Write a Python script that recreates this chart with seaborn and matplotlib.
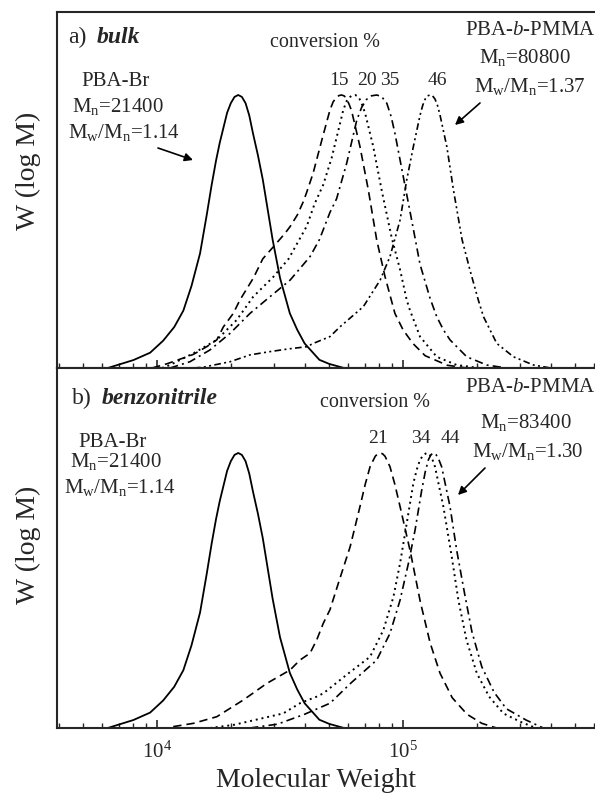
import numpy as np
import pandas as pd
import matplotlib
matplotlib.use("Agg")
import matplotlib.pyplot as plt
import seaborn as sns

# --- data: log10(M) and normalised W(log M) ---
# PBA-Br macroinitiator (same trace in both panels)
pba_logm = [3.80, 3.904, 3.972, 4.025, 4.07, 4.107, 4.14, 4.175, 4.202, 4.222, 4.24,
            4.255, 4.27, 4.285, 4.30, 4.315, 4.33, 4.345, 4.36, 4.375, 4.39, 4.41,
            4.43, 4.45, 4.47, 4.50, 4.54, 4.57, 4.60, 4.66, 4.70, 4.76]
pba_w = [0.0, 0.029, 0.056, 0.10, 0.15, 0.21, 0.30, 0.42, 0.56, 0.67, 0.76,
         0.825, 0.88, 0.935, 0.97, 0.993, 1.0, 0.993, 0.97, 0.925, 0.86, 0.78,
         0.69, 0.58, 0.47, 0.33, 0.20, 0.14, 0.09, 0.03, 0.015, 0.0]

# a) bulk
a15_logm = [3.98, 4.039, 4.121, 4.148, 4.202, 4.243, 4.270, 4.310, 4.337, 4.392, 4.430,
            4.473, 4.520, 4.541, 4.57, 4.595, 4.609, 4.635, 4.670, 4.703, 4.716, 4.73,
            4.74, 4.751, 4.762, 4.77, 4.78, 4.791, 4.825, 4.859, 4.893, 4.927, 4.967,
            5.00, 5.04, 5.09, 5.18, 5.26]
a15_w = [0.0, 0.015, 0.041, 0.05, 0.078, 0.103, 0.151, 0.20, 0.249, 0.33, 0.40,
         0.444, 0.493, 0.518, 0.56, 0.61, 0.645, 0.715, 0.835, 0.945, 0.975, 0.992,
         0.998, 1.0, 0.996, 0.985, 0.968, 0.942, 0.811, 0.652, 0.469, 0.334, 0.20,
         0.14, 0.09, 0.045, 0.01, 0.0]

a20_logm = [4.02, 4.053, 4.148, 4.243, 4.324, 4.391, 4.473, 4.535, 4.609, 4.640, 4.676,
            4.71, 4.744, 4.757, 4.771, 4.785, 4.795, 4.805, 4.815, 4.823, 4.835, 4.846,
            4.879, 4.913, 4.953, 4.988, 5.015, 5.028, 5.069, 5.137, 5.218, 5.31]
a20_w = [0.0, 0.011, 0.054, 0.103, 0.176, 0.261, 0.334, 0.40, 0.52, 0.60, 0.672,
         0.77, 0.896, 0.945, 0.978, 0.993, 0.999, 1.0, 0.996, 0.986, 0.962, 0.933,
         0.811, 0.652, 0.481, 0.36, 0.249, 0.212, 0.115, 0.041, 0.011, 0.0]

a35_logm = [4.053, 4.134, 4.215, 4.297, 4.378, 4.459, 4.541, 4.622, 4.66, 4.703, 4.730,
            4.771, 4.812, 4.832, 4.852, 4.872, 4.893, 4.913, 4.934, 4.952, 4.967, 5.001,
            5.035, 5.069, 5.110, 5.137, 5.164, 5.191, 5.259, 5.340, 5.42]
a35_w = [0.0, 0.023, 0.066, 0.127, 0.20, 0.261, 0.322, 0.408, 0.47, 0.57, 0.62,
         0.75, 0.908, 0.955, 0.984, 0.997, 1.0, 0.994, 0.97, 0.92, 0.86, 0.701,
         0.542, 0.38, 0.255, 0.188, 0.14, 0.103, 0.041, 0.011, 0.0]

a46_logm = [4.15, 4.188, 4.297, 4.378, 4.459, 4.535, 4.609, 4.635, 4.703, 4.744, 4.839,
            4.907, 4.947, 4.988, 5.015, 5.042, 5.069, 5.080, 5.090, 5.100, 5.110, 5.120,
            5.130, 5.140, 5.150, 5.178, 5.205, 5.24, 5.272, 5.306, 5.327, 5.381, 5.449,
            5.530, 5.60]
a46_w = [0.0, 0.003, 0.023, 0.048, 0.060, 0.07, 0.078, 0.09, 0.115, 0.151, 0.225,
         0.322, 0.408, 0.542, 0.689, 0.811, 0.925, 0.962, 0.985, 0.997, 1.0, 0.997,
         0.985, 0.962, 0.928, 0.811, 0.652, 0.47, 0.359, 0.249, 0.188, 0.09, 0.041,
         0.011, 0.0]

# b) benzonitrile
b21_logm = [4.066, 4.148, 4.243, 4.351, 4.446, 4.541, 4.581, 4.622, 4.649, 4.676, 4.703,
            4.737, 4.785, 4.825, 4.846, 4.866, 4.887, 4.897, 4.907, 4.917, 4.927, 4.947,
            4.967, 4.988, 5.03, 5.07, 5.11, 5.15, 5.20, 5.26, 5.32, 5.38]
b21_w = [0.005, 0.017, 0.041, 0.102, 0.162, 0.211, 0.247, 0.272, 0.32, 0.381, 0.43,
         0.526, 0.659, 0.805, 0.885, 0.95, 0.988, 0.997, 1.0, 0.997, 0.988, 0.95,
         0.885, 0.805, 0.64, 0.46, 0.31, 0.20, 0.11, 0.05, 0.017, 0.0]

b34_logm = [4.215, 4.310, 4.513, 4.581, 4.649, 4.676, 4.78, 4.866, 4.920, 4.961, 4.988,
            5.015, 5.042, 5.056, 5.069, 5.083, 5.096, 5.108, 5.12, 5.130, 5.164, 5.198,
            5.225, 5.258, 5.30, 5.35, 5.408, 5.476, 5.54]
b34_w = [0.0, 0.011, 0.053, 0.09, 0.114, 0.126, 0.20, 0.259, 0.356, 0.477, 0.599,
         0.744, 0.89, 0.94, 0.975, 0.993, 1.0, 0.995, 0.975, 0.95, 0.805, 0.623,
         0.465, 0.32, 0.199, 0.114, 0.053, 0.023, 0.0]

b44_logm = [4.378, 4.49, 4.60, 4.703, 4.79, 4.893, 4.947, 4.988, 5.022, 5.049, 5.076,
            5.09, 5.103, 5.113, 5.123, 5.135, 5.146, 5.157, 5.191, 5.218, 5.25, 5.28,
            5.32, 5.37, 5.42, 5.50, 5.57]
b44_w = [0.0, 0.014, 0.05, 0.09, 0.165, 0.247, 0.344, 0.465, 0.599, 0.72, 0.865,
         0.93, 0.975, 0.993, 1.0, 0.993, 0.975, 0.95, 0.805, 0.647, 0.49, 0.35,
         0.223, 0.13, 0.07, 0.029, 0.0]

W, H = 595, 799


def fx(x):
    return x / W


def fy(y):
    return 1 - y / H


def curve(ax, logm, w, ls, lw=1.2):
    df = pd.DataFrame({'M': 10 ** np.array(logm), 'W': w})
    sns.lineplot(data=df, x='M', y='W', ax=ax, color='black', linestyle=ls,
                 linewidth=lw, estimator=None, sort=False)


sns.set_style("ticks")
plt.rcParams['font.family'] = ['Liberation Serif', 'DejaVu Serif']
plt.rcParams['mathtext.fontset'] = 'custom'
plt.rcParams['mathtext.rm'] = 'Liberation Serif'
plt.rcParams['mathtext.it'] = 'Liberation Serif:italic'
plt.rcParams['mathtext.bf'] = 'Liberation Serif:bold'
plt.rcParams['lines.solid_joinstyle'] = 'round'
plt.rcParams['lines.dash_joinstyle'] = 'round'

DASH = (0, (5, 3))
DOT = (0, (1, 2))
DASHDOT = (0, (5, 2.5, 1.2, 2.5))
DASHDOTDOT = (0, (4, 2, 1.2, 2, 1.2, 2))

fig = plt.figure(figsize=(5.95, 7.99), dpi=100)
ax_a = fig.add_axes([fx(57), fy(368), 1 - fx(57), (368 - 12) / H])
ax_b = fig.add_axes([fx(57), fy(728), 1 - fx(57), (728 - 368) / H])

curve(ax_a, pba_logm, pba_w, '-', 1.3)
curve(ax_a, a15_logm, a15_w, DASH)
curve(ax_a, a20_logm, a20_w, DOT, 1.4)
curve(ax_a, a35_logm, a35_w, DASHDOT)
curve(ax_a, a46_logm, a46_w, DASHDOTDOT)

curve(ax_b, pba_logm, pba_w, '-', 1.3)
curve(ax_b, b21_logm, b21_w, DASH)
curve(ax_b, b34_logm, b34_w, DOT, 1.4)
curve(ax_b, b44_logm, b44_w, DASHDOT)

for ax, top in [(ax_a, 1.304), (ax_b, 1.309)]:
    ax.set_xscale('log')
    ax.set_xlim(3922, 603000)
    ax.set_ylim(0, top)
    ax.set_yticks([])
    ax.spines['right'].set_visible(False)
    for s in ['left', 'bottom', 'top']:
        ax.spines[s].set_linewidth(1.5)
    ax.tick_params(axis='x', which='major', direction='in', length=6, width=1.2,
                   labelsize=15, pad=10, top=False)
    ax.tick_params(axis='x', which='minor', direction='in', length=3.5, width=1.0,
                   top=False)
    ax.set_ylabel('W (log M)', fontsize=20)
    ax.set_xlabel('')

ax_a.tick_params(axis='x', which='both', labelbottom=False)
ax_a.yaxis.set_label_coords(-0.03, 0.553)
ax_b.yaxis.set_label_coords(-0.03, 0.508)
ax_b.set_xlabel('Molecular Weight', fontsize=20)
ax_b.xaxis.set_label_coords(0.481, -0.11)

# panel a annotations
fig.text(fx(68), fy(43), 'a)', fontsize=17, va='baseline')
fig.text(fx(97), fy(43), 'bulk', fontsize=17, va='baseline', fontweight='bold', style='italic')
fig.text(fx(325), fy(47), 'conversion %', fontsize=14.5, ha='center', va='baseline')
for lab, x in [('15', 339), ('20', 367), ('35', 390), ('46', 437)]:
    fig.text(fx(x), fy(85), lab, fontsize=14, ha='center', va='baseline')
fig.text(fx(116), fy(86), 'PBA-Br', fontsize=15, ha='center', va='baseline')
fig.text(fx(118), fy(112), r'M$_\mathregular{n}$=21400', fontsize=15, ha='center', va='baseline')
fig.text(fx(124), fy(138), r'M$_\mathregular{w}$/M$_\mathregular{n}$=1.14', fontsize=15,
         ha='center', va='baseline')
fig.text(fx(530), fy(35), r'PBA-$\mathit{b}$-PMMA', fontsize=15, ha='center', va='baseline')
fig.text(fx(525), fy(63), r'M$_\mathregular{n}$=80800', fontsize=15, ha='center', va='baseline')
fig.text(fx(530), fy(92), r'M$_\mathregular{w}$/M$_\mathregular{n}$=1.37', fontsize=15,
         ha='center', va='baseline')

# panel b annotations
fig.text(fx(72), fy(404), 'b)', fontsize=17, va='baseline')
fig.text(fx(102), fy(404), 'benzonitrile', fontsize=17, va='baseline', fontweight='bold',
         style='italic')
fig.text(fx(375), fy(407), 'conversion %', fontsize=14.5, ha='center', va='baseline')
for lab, x in [('21', 378), ('34', 421), ('44', 450)]:
    fig.text(fx(x), fy(443), lab, fontsize=14, ha='center', va='baseline')
fig.text(fx(113), fy(447), 'PBA-Br', fontsize=15, ha='center', va='baseline')
fig.text(fx(116), fy(467), r'M$_\mathregular{n}$=21400', fontsize=15, ha='center', va='baseline')
fig.text(fx(120), fy(493), r'M$_\mathregular{w}$/M$_\mathregular{n}$=1.14', fontsize=15,
         ha='center', va='baseline')
fig.text(fx(530), fy(392), r'PBA-$\mathit{b}$-PMMA', fontsize=15, ha='center', va='baseline')
fig.text(fx(526), fy(428), r'M$_\mathregular{n}$=83400', fontsize=15, ha='center', va='baseline')
fig.text(fx(528), fy(457), r'M$_\mathregular{w}$/M$_\mathregular{n}$=1.30', fontsize=15,
         ha='center', va='baseline')

arrow = dict(arrowstyle='-|>', color='black', lw=1.2, mutation_scale=12, shrinkA=0, shrinkB=0)
for (x0, y0), (x1, y1) in [((158, 148), (193, 160)), ((480, 103), (455, 125)),
                           ((485, 468), (458, 495))]:
    fig.add_artist(matplotlib.patches.FancyArrowPatch((fx(x0), fy(y0)), (fx(x1), fy(y1)),
                                                      transform=fig.transFigure, **arrow))

fig.savefig('out.png', dpi=100)
